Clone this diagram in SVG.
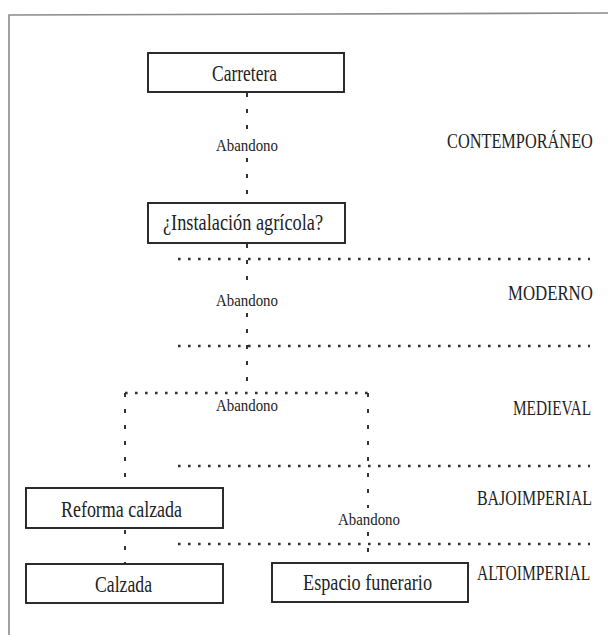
<svg xmlns="http://www.w3.org/2000/svg" width="608" height="635" viewBox="0 0 608 635">
<style>
.box{fill:#fff;stroke:#222;stroke-width:1.9}
.t{font-family:"Liberation Serif","Times New Roman",serif;fill:#222}
.nl{font-size:23px}
.ab{font-size:17px}
.per{font-size:21px}
.dash{stroke:#333;stroke-width:2;stroke-dasharray:4 12;fill:none}
.dot{stroke:#333;stroke-width:2.4;stroke-dasharray:2.6 7.4;fill:none}
.frame{stroke:#8a8a8a;stroke-width:1.6;fill:none}
</style>
<rect width="608" height="635" fill="#fff"/>
<path class="frame" d="M9 635 V15 L608 13"/>
<g id="periods">
<line class="dot" x1="178" y1="259" x2="590" y2="259"/>
<line class="dot" x1="178" y1="346" x2="590" y2="346"/>
<line class="dot" x1="178" y1="466" x2="590" y2="466"/>
<line class="dot" x1="178" y1="544" x2="590" y2="544"/>
<text class="t per" transform="translate(447,148) scale(0.777,1)">CONTEMPORÁNEO</text>
<text class="t per" transform="translate(508,300) scale(0.80,1)">MODERNO</text>
<text class="t per" transform="translate(513,415) scale(0.73,1)">MEDIEVAL</text>
<text class="t per" transform="translate(477,505) scale(0.758,1)">BAJOIMPERIAL</text>
<text class="t per" transform="translate(477,580) scale(0.741,1)">ALTOIMPERIAL</text>
</g>
<g id="connectors">
<line class="dash" x1="247" y1="93" x2="247" y2="137"/>
<line class="dash" x1="247" y1="158" x2="247" y2="203"/>
<line class="dash" x1="247" y1="244" x2="247" y2="291"/>
<line class="dash" x1="247" y1="313" x2="247" y2="393"/>
<line class="dot" x1="125" y1="393" x2="368" y2="393"/>
<line class="dash" x1="125" y1="393" x2="125" y2="488"/>
<line class="dash" x1="125" y1="530" x2="125" y2="564"/>
<line class="dash" x1="368" y1="393" x2="368" y2="508"/>
<line class="dash" x1="368" y1="532" x2="368" y2="563"/>
<text class="t ab" x="216" y="151" textLength="62" lengthAdjust="spacingAndGlyphs">Abandono</text>
<text class="t ab" x="216" y="306" textLength="62" lengthAdjust="spacingAndGlyphs">Abandono</text>
<text class="t ab" x="216" y="411" textLength="62" lengthAdjust="spacingAndGlyphs">Abandono</text>
<text class="t ab" x="338" y="525" textLength="62" lengthAdjust="spacingAndGlyphs">Abandono</text>
</g>
<g id="carretera">
<rect class="box" x="148" y="53" width="196" height="39"/>
<text class="t nl" x="212" y="81" textLength="65" lengthAdjust="spacingAndGlyphs">Carretera</text>
</g>
<g id="instalacion">
<rect class="box" x="148" y="203" width="197" height="40"/>
<text class="t nl" x="163" y="230" textLength="160" lengthAdjust="spacingAndGlyphs">¿Instalación agrícola?</text>
</g>
<g id="reforma">
<rect class="box" x="26" y="488" width="197" height="40"/>
<text class="t nl" x="61" y="517" textLength="121" lengthAdjust="spacingAndGlyphs">Reforma calzada</text>
</g>
<g id="calzada">
<rect class="box" x="26" y="564" width="197" height="39"/>
<text class="t nl" x="95" y="592" textLength="57" lengthAdjust="spacingAndGlyphs">Calzada</text>
</g>
<g id="espacio">
<rect class="box" x="272" y="563" width="196" height="39"/>
<text class="t nl" x="303" y="590" textLength="129" lengthAdjust="spacingAndGlyphs">Espacio funerario</text>
</g>
</svg>
